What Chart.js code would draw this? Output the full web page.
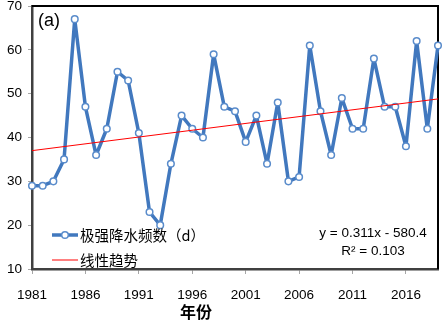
<!DOCTYPE html>
<html>
<head>
<meta charset="utf-8">
<script src="https://cdn.jsdelivr.net/npm/chart.js@4"></script>
<style>
  html, body { margin: 0; padding: 0; background: #ffffff; }
  #wrap { width: 444px; height: 322px; position: relative; }
</style>
</head>
<body>
<div id="wrap"><canvas id="c" width="444" height="322"></canvas></div>
<script>
// Categories (years)
const years = ['1981','1982','1983','1984','1985','1986','1987','1988','1989','1990',
               '1991','1992','1993','1994','1995','1996','1997','1998','1999','2000',
               '2001','2002','2003','2004','2005','2006','2007','2008','2009','2010',
               '2011','2012','2013','2014','2015','2016','2017','2018','2019'];
// Extreme precipitation frequency (days)
const freqValues = [29, 29, 30, 35, 67, 47, 36, 42, 55, 53,
                    41, 23, 20, 34, 45, 42, 40, 59, 47, 46,
                    39, 45, 34, 48, 30, 31, 61, 46, 36, 49,
                    42, 42, 58, 47, 47, 38, 62, 42, 61];
// Linear trend line end values (first year, last year)
const trendEnds = [37.0, 48.8];
// Y tick values
const yTicks = [10, 20, 30, 40, 50, 60, 70];
// Text
const seriesName = '极强降水频数（d）';
const trendName = '线性趋势';
const panelLabel = '(a)';
const eqLine1 = 'y = 0.311x - 580.4';
const eqLine2 = 'R² = 0.103';
const xTitle = '年份';

const trendData = years.map((y, i) => i === 0 ? trendEnds[0] : (i === years.length - 1 ? trendEnds[1] : null));

const BLUE = '#4178BE';
const LATIN = '"Liberation Sans", Arial, sans-serif';
const CJK = '"Noto Sans CJK SC", sans-serif';

const deco = {
  id: 'deco',
  beforeDatasetsDraw(chart) {
    const { ctx, chartArea: a } = chart;
    ctx.save();
    ctx.strokeStyle = '#000000';
    ctx.lineWidth = 2;
    ctx.beginPath();
    ctx.moveTo(a.left, a.top);
    ctx.lineTo(a.right, a.top);
    ctx.lineTo(a.right, a.bottom);
    ctx.stroke();
    ctx.restore();
  },
  afterDraw(chart) {
    const { ctx, chartArea: a } = chart;
    ctx.save();
    // panel label
    ctx.fillStyle = '#000';
    ctx.font = '18px ' + LATIN;
    ctx.textBaseline = 'middle';
    ctx.textAlign = 'left';
    ctx.fillText(panelLabel, a.left + 6, a.top + 15);

    // legend
    const ds = chart.data.datasets;
    const lx0 = a.left + 20, lx1 = a.left + 46;
    const ly = [a.bottom - 34, a.bottom - 9];
    ctx.lineCap = 'butt';
    ctx.strokeStyle = ds[1].borderColor;
    ctx.lineWidth = ds[1].borderWidth;
    ctx.beginPath(); ctx.moveTo(lx0, ly[0]); ctx.lineTo(lx1, ly[0]); ctx.stroke();
    ctx.beginPath();
    ctx.arc((lx0 + lx1) / 2, ly[0], ds[1].pointRadius, 0, Math.PI * 2);
    ctx.fillStyle = ds[1].pointBackgroundColor; ctx.fill();
    ctx.lineWidth = ds[1].pointBorderWidth; ctx.strokeStyle = ds[1].pointBorderColor; ctx.stroke();
    ctx.strokeStyle = ds[0].borderColor;
    ctx.lineWidth = ds[0].borderWidth;
    ctx.beginPath(); ctx.moveTo(lx0, ly[1]); ctx.lineTo(lx1, ly[1]); ctx.stroke();
    ctx.fillStyle = '#000';
    ctx.font = '14.5px ' + CJK;
    ctx.textAlign = 'left';
    ctx.fillText(ds[1].label, lx1 + 2, ly[0]);
    ctx.fillText(ds[0].label, lx1 + 2, ly[1]);

    // equation
    ctx.font = '13.5px ' + LATIN;
    ctx.textAlign = 'center';
    ctx.fillText(eqLine1, a.right - 65, a.bottom - 36);
    ctx.fillText(eqLine2, a.right - 65, a.bottom - 18);

    // x axis title
    ctx.font = 'bold 16px ' + CJK;
    ctx.fillText(xTitle, 196, 312);
    ctx.restore();
  }
};

new Chart(document.getElementById('c'), {
  type: 'line',
  data: {
    labels: years,
    datasets: [
      {
        label: trendName,
        data: trendData,
        spanGaps: true,
        borderColor: '#FF0000',
        borderWidth: 1,
        pointRadius: 0,
        order: 0
      },
      {
        label: seriesName,
        data: freqValues,
        borderColor: BLUE,
        borderWidth: 3.5,
        borderJoinStyle: 'round',
        borderCapStyle: 'round',
        pointRadius: 3.3,
        pointBackgroundColor: '#FFFFFF',
        pointBorderColor: '#5A8CCB',
        pointBorderWidth: 1.5,
        tension: 0,
        order: 1
      }
    ]
  },
  options: {
    responsive: false,
    devicePixelRatio: 1,
    animation: false,
    events: [],
    layout: { padding: { left: 0, right: 6, top: 6, bottom: 0 } },
    plugins: { legend: { display: false }, tooltip: { enabled: false } },
    scales: {
      x: {
        type: 'category',
        offset: false,
        grid: {
          drawOnChartArea: false,
          drawTicks: true,
          tickLength: 5,
          color: (c) => (c.index % 5 === 0 ? '#A6A6A6' : 'rgba(0,0,0,0)'),
          lineWidth: 1
        },
        border: { color: '#404040', width: 2.5 },
        ticks: {
          autoSkip: false,
          maxRotation: 0,
          minRotation: 0,
          padding: 13,
          color: '#000',
          font: { family: LATIN, size: 13.5 },
          callback: function (v, i) { return i % 5 === 0 ? years[i] : ''; }
        },
        afterFit(s) { s.height = 53; s.paddingLeft = 0; s.paddingRight = 0; }
      },
      y: {
        min: yTicks[0],
        max: yTicks[yTicks.length - 1],
        grid: {
          drawOnChartArea: false,
          drawTicks: true,
          tickLength: 4,
          color: '#A6A6A6'
        },
        border: { color: '#404040', width: 2.5 },
        afterBuildTicks(s) { s.ticks = yTicks.map(v => ({ value: v })); },
        ticks: {
          padding: 6,
          color: '#000',
          font: { family: LATIN, size: 13.5 }
        },
        afterFit(s) { s.width = 32; s.paddingTop = 0; s.paddingBottom = 0; }
      }
    }
  },
  plugins: [deco]
});
</script>
</body>
</html>
